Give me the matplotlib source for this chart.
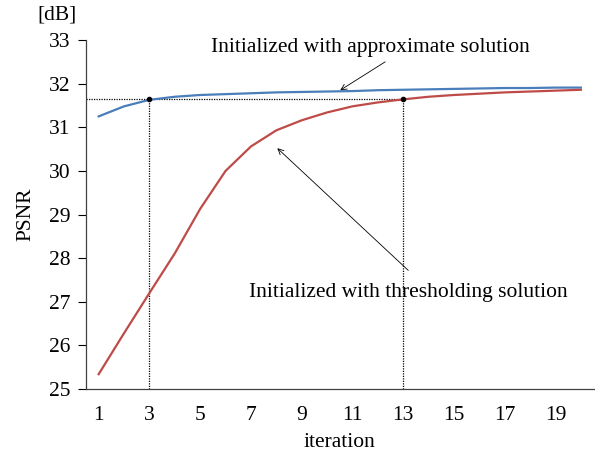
import matplotlib
matplotlib.use("Agg")
import matplotlib.pyplot as plt
import numpy as np

plt.rcParams['font.family'] = ['Liberation Serif', 'DejaVu Serif']

# data ---------------------------------------------------------------
iterations = list(range(1, 21))
psnr_approx = [31.25, 31.48, 31.63, 31.70, 31.74, 31.76, 31.78, 31.80, 31.81, 31.82,
               31.83, 31.85, 31.86, 31.87, 31.88, 31.89, 31.90, 31.90, 31.91, 31.91]
psnr_thresh = [25.34, 26.28, 27.20, 28.11, 29.13, 30.00, 30.56, 30.93, 31.16, 31.34,
               31.48, 31.57, 31.64, 31.70, 31.74, 31.77, 31.80, 31.82, 31.84, 31.86]
xticks = [1, 3, 5, 7, 9, 11, 13, 15, 17, 19]
yticks = [25, 26, 27, 28, 29, 30, 31, 32, 33]
mark_iters = [3, 13]
mark_level = 31.65
label_approx = "Initialized with approximate solution"
label_thresh = "Initialized with thresholding solution"

fig = plt.figure(figsize=(5.95, 4.55), dpi=100)
ax = fig.add_axes([0.1445, 0.145, 0.853, 0.767])

ax.plot(iterations, psnr_approx, color='#4a7ebb', lw=1.6, zorder=3)
ax.plot(iterations, psnr_thresh, color='#be4b48', lw=1.6, zorder=3)

# dotted guide lines
ax.plot([0.5, mark_iters[1]], [mark_level, mark_level], color='black', ls=(0, (1, 1)), lw=0.9, zorder=2)
for m in mark_iters:
    ax.plot([m, m], [25, mark_level], color='black', ls=(0, (1, 1)), lw=0.9, zorder=2)
ax.plot(mark_iters, [mark_level] * 2, 'o', color='black', ms=3, zorder=4)

# annotations: text and arrows placed separately
ax.text(11.7, 32.84, label_approx, ha='center', va='center', fontsize=15.5)
ax.annotate("", xy=(10.52, 31.85), xytext=(12.29, 32.50),
            arrowprops=dict(arrowstyle='->', color='black', lw=0.6,
                            shrinkA=0, shrinkB=0))
ax.text(13.2, 27.22, label_thresh, ha='center', va='center', fontsize=15.5)
ax.annotate("", xy=(8.04, 30.52), xytext=(13.2, 27.72),
            arrowprops=dict(arrowstyle='->', color='black', lw=0.6,
                            shrinkA=0, shrinkB=0))

ax.set_xlim(0.5, 20.5)
ax.set_ylim(25, 33)
ax.set_xticks(xticks)
ax.set_yticks(yticks)
ax.tick_params(axis='x', length=0, pad=12, labelsize=15.5)
ax.tick_params(axis='y', length=6, width=0.8, labelsize=15.5, pad=5)
for s in ['top', 'right']:
    ax.spines[s].set_visible(False)
ax.spines['left'].set_color('#404040')
ax.spines['bottom'].set_color('#404040')
ax.spines['left'].set_linewidth(0.9)
ax.spines['bottom'].set_linewidth(0.9)

ax.set_xlabel("iteration", fontsize=15.5, labelpad=6)
ax.set_ylabel("PSNR", fontsize=15.5, labelpad=10)
fig.text(0.096, 0.966, "[dB]", fontsize=15.5, ha='center', va='center')

plt.savefig("out.png", dpi=100)
